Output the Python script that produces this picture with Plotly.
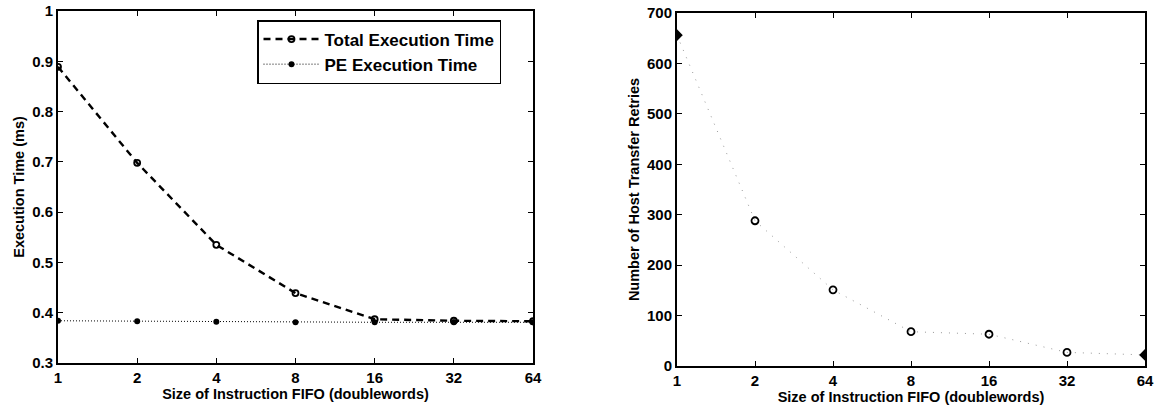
import plotly.graph_objects as go

fifo_sizes = [1, 2, 4, 8, 16, 32, 64]
tick_labels = ["1", "2", "4", "8", "16", "32", "64"]
total_exec_ms = [0.889, 0.698, 0.535, 0.439, 0.387, 0.384, 0.383]
pe_exec_ms = [0.384, 0.383, 0.382, 0.381, 0.381, 0.381, 0.381]
host_retries = [656, 288, 151, 68, 63, 27, 22]

W, H = 1157, 406
font = "Liberation Sans, Arial, sans-serif"

fig = go.Figure()

fig.add_trace(go.Scatter(
    x=fifo_sizes, y=total_exec_ms, name="Total Execution Time",
    mode="lines+markers", xaxis="x", yaxis="y",
    line=dict(color="black", width=2.4, dash="7px,5px"),
    marker=dict(symbol="circle-open", size=6, color="black", line=dict(width=1.8)),
))
fig.add_trace(go.Scatter(
    x=fifo_sizes, y=pe_exec_ms, name="PE Execution Time",
    mode="lines+markers", xaxis="x", yaxis="y",
    line=dict(color="black", width=1, dash="1px,2px"),
    marker=dict(symbol="circle", size=6, color="black"),
))
end_symbols = ["diamond"] + ["circle-open"] * (len(fifo_sizes) - 2) + ["diamond"]
fig.add_trace(go.Scatter(
    x=fifo_sizes, y=host_retries, name="Host Transfer Retries",
    mode="lines+markers", xaxis="x2", yaxis="y2", showlegend=False,
    line=dict(color="#999999", width=1, dash="1px,7px"),
    marker=dict(symbol=end_symbols, size=7, color="black", line=dict(width=1.8, color="black")),
))

def px_x(a, b):
    return [a / W, b / W]

def px_y(top, bottom):
    return [1 - bottom / H, 1 - top / H]

tick_font = dict(family=font, size=15, color="black", weight="bold")
xtitle_font = dict(family=font, size=14.5, color="black", weight="bold")
ytitle_font = dict(family=font, size=14.5, color="black", weight="bold")

axis_common = dict(
    showline=True, linecolor="black", linewidth=2, mirror="ticks",
    ticks="inside", ticklen=5, tickwidth=1.2, tickcolor="black",
    showgrid=False, zeroline=False, automargin=False,
    tickfont=tick_font, ticklabelstandoff=0,
)

fig.update_layout(
    width=W, height=H,
    margin=dict(l=0, r=0, t=0, b=0),
    paper_bgcolor="white", plot_bgcolor="white",
    font=dict(family=font, color="black"),
    xaxis=dict(
        **axis_common, type="log", domain=px_x(58, 533), anchor="y",
        range=[0, 1.80618], tickvals=fifo_sizes, ticktext=tick_labels,
        title=dict(text="Size of Instruction FIFO (doublewords)", font=xtitle_font, standoff=0),
    ),
    yaxis=dict(
        **axis_common, domain=px_y(11, 363), anchor="x",
        range=[0.3, 1.0], tickvals=[0.3, 0.4, 0.5, 0.6, 0.7, 0.8, 0.9, 1.0],
        ticktext=["0.3", "0.4", "0.5", "0.6", "0.7", "0.8", "0.9", "1"],
        title=dict(text="Execution Time (ms)", font=ytitle_font, standoff=4),
    ),
    xaxis2=dict(
        **axis_common, type="log", domain=px_x(677, 1145), anchor="y2",
        range=[0, 1.80618], tickvals=fifo_sizes, ticktext=tick_labels,
        title=dict(text="Size of Instruction FIFO (doublewords)", font=xtitle_font, standoff=0),
    ),
    yaxis2=dict(
        **axis_common, domain=px_y(13, 366), anchor="x2",
        range=[0, 700], tickvals=[0, 100, 200, 300, 400, 500, 600, 700],
        title=dict(text="Number of Host Transfer Retries", font=ytitle_font, standoff=4),
    ),
    legend=dict(
        x=257 / W, y=1 - 20 / H, xanchor="left", yanchor="top",
        bgcolor="white", bordercolor="black", borderwidth=1.5,
        font=dict(family=font, size=17, color="black", weight="bold"),
        tracegroupgap=0, itemwidth=56,
    ),
)

fig.write_html(
    "out.html",
    config={"displayModeBar": False},
    post_script="document.body.style.margin='0';",
)
